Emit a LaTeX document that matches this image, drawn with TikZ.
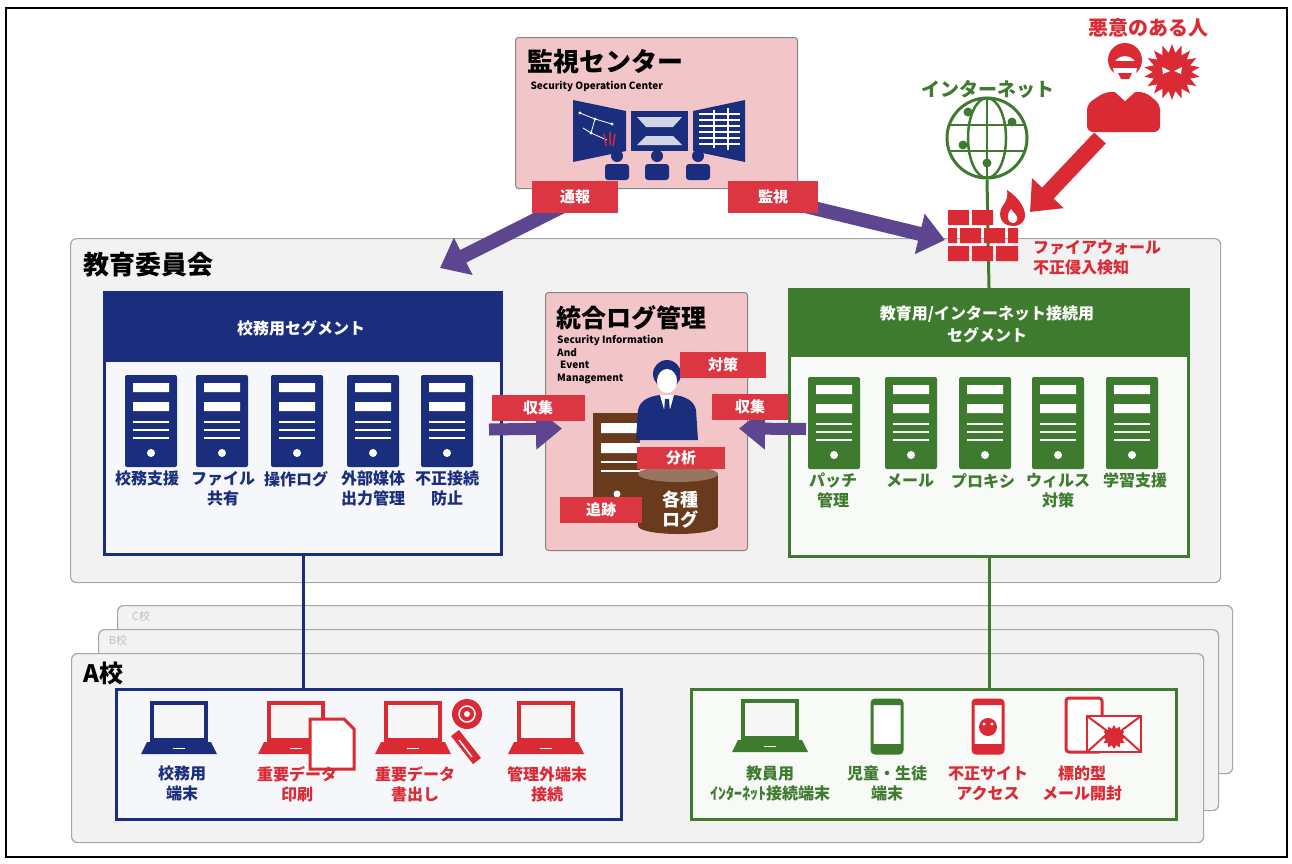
\documentclass[tikz,border=0pt]{standalone}
\usepackage{fontspec}
\setmainfont{Noto Sans CJK JP}
\usetikzlibrary{arrows.meta,shapes.geometric}

\definecolor{navyseg}{HTML}{1B2E7E}
\definecolor{greenseg}{HTML}{3F7B2E}
\definecolor{tagred}{HTML}{DC3642}
\definecolor{alertred}{HTML}{DA2A33}
\definecolor{pinkbox}{HTML}{F2C5C9}
\definecolor{arrowpurple}{HTML}{5E4590}
\definecolor{logbrown}{HTML}{6A3A1C}
\definecolor{panelgray}{HTML}{F2F2F2}
\definecolor{framegray}{HTML}{A6A6A6}

\newcommand\fsz[2]{\fontsize{#1}{#2}\selectfont}

% server tower: #1 x centre, #2 top, #3 colour
\newcommand\servericon[3]{%
  \begin{scope}[shift={(#1,#2)}]
    \fill[#3,rounded corners=2pt] (-26,0) rectangle (26,92);
    \fill[white] (-18,8) rectangle (18,17) (-18,27) rectangle (18,36);
    \draw[white,line width=1.6pt] (-18,47) -- (18,47) (-18,55) -- (18,55) (-18,63) -- (18,63);
    \fill[white] (0,78) circle (4);
  \end{scope}}

% notebook pc: #1 x centre, #2 screen top, #3 colour
\newcommand\laptopicon[3]{%
  \begin{scope}[shift={(#1,#2)}]
    \draw[#3,line width=3.5pt,fill=white!97!black] (-27,0) rectangle (27,37);
    \fill[#3] (-32,39) -- (32,39) -- (38,51) -- (-38,51) -- cycle;
    \draw[white,line width=1pt] (-6,45) -- (6,45);
  \end{scope}}

% smartphone: #1 x centre, #2 top, #3 colour
\newcommand\phoneicon[3]{%
  \begin{scope}[shift={(#1,#2)}]
    \draw[#3,line width=3pt,fill=white,rounded corners=3pt] (-15,0) rectangle (15,53);
    \fill[#3] (-15,44) rectangle (15,53) (-15,0) rectangle (15,5);
  \end{scope}}

\begin{document}
\begin{tikzpicture}[x=1pt,y=-1pt,
  panel/.style={draw=framegray,fill=panelgray,line width=1.2pt,rounded corners=6pt,anchor=north west,inner sep=0pt},
  pinkpanel/.style={draw=framegray!80!black,fill=pinkbox,line width=1pt,rounded corners=3pt,anchor=north west,inner sep=0pt},
  segbox/.style={draw=#1,fill=white!96!#1,line width=3pt,anchor=north west,inner sep=0pt},
  tag/.style={fill=tagred,text=white,font=\bfseries\fsz{15}{17},inner sep=0pt},
  lbl/.style={align=center,inner sep=0pt,anchor=north,font=\bfseries\fsz{16}{20}},
  flow/.style={draw=arrowpurple,line width=14pt,-{Triangle[length=26pt,width=40pt]}},
  attack/.style={draw=alertred,line width=16pt,-{Triangle[length=26pt,width=42pt]}}]
\useasboundingbox (0,0) rectangle (1292,863);
\draw[line width=1.2pt] (6,8) rectangle (1287,857);

%-------->panels<--------------
\node[panel,minimum width=1150pt,minimum height=344pt] (board) at (70,238) {};
\node[anchor=west,font=\bfseries\fsz{26}{28}] (boardttl) at (80,265) {教育委員会};

\node[panel,minimum width=1115pt,minimum height=168pt] (schC) at (117,605) {};
\node[text=black!25,font=\fsz{11}{12}] (schCttl) at (141,616) {C校};
\node[panel,minimum width=1120pt,minimum height=181pt] (schB) at (98,629) {};
\node[text=black!25,font=\fsz{11}{12}] (schBttl) at (118,640) {B校};
\node[panel,minimum width=1132pt,minimum height=189pt] (schA) at (71,653) {};
\node[anchor=west,font=\bfseries\fsz{24}{26}] (schAttl) at (80,673) {A校};

\node[pinkpanel,minimum width=282pt,minimum height=151pt] (soc) at (515,37) {};
\node[anchor=west,font=\bfseries\fsz{26}{28}] (socttl) at (524,62) {監視センター};
\node[anchor=west,font=\bfseries\fsz{10}{12}] (socsub) at (527,86) {Security Operation Center};

\node[pinkpanel,minimum width=202pt,minimum height=258pt] (siem) at (545,292) {};
\node[anchor=west,font=\bfseries\fsz{25}{27}] (siemttl) at (553,318) {統合ログ管理};
\node[anchor=north west,align=left,inner sep=0pt,font=\bfseries\fsz{10}{12.5}] (siemsub) at (557,335)
  {Security Information\\And\\\hspace{3pt}Event\\Management};

%-------->segments<--------------
\node[segbox=navyseg,minimum width=397pt,minimum height=262pt] (seg1) at (103,291) {};
\fill[navyseg] (seg1.north west) rectangle ([yshift=-71pt]seg1.north east);
\node[text=white,font=\bfseries\fsz{16}{19}] (seg1ttl) at (301,328) {校務用セグメント};

\node[segbox=greenseg,minimum width=399pt,minimum height=267pt] (seg2) at (788,288) {};
\fill[greenseg] (seg2.north west) rectangle ([yshift=-69pt]seg2.north east);
\node[text=white,align=center,font=\bfseries\fsz{16}{22}] (seg2ttl) at (987,324) {教育用/インターネット接続用\\セグメント};

%-------->servers<--------------
\servericon{151}{375}{navyseg}
\servericon{222}{375}{navyseg}
\servericon{297}{375}{navyseg}
\servericon{373}{375}{navyseg}
\servericon{447}{375}{navyseg}
\node[lbl,text=navyseg] (sv1) at (147,471) {校務支援};
\node[lbl,text=navyseg] (sv2) at (223,471) {ファイル\\共有};
\node[lbl,text=navyseg] (sv3) at (296,471) {操作ログ};
\node[lbl,text=navyseg] (sv4) at (373,471) {外部媒体\\出力管理};
\node[lbl,text=navyseg] (sv5) at (447,471) {不正接続\\防止};

\servericon{834}{377}{greenseg}
\servericon{911}{377}{greenseg}
\servericon{985}{377}{greenseg}
\servericon{1058}{377}{greenseg}
\servericon{1132}{377}{greenseg}
\node[lbl,text=greenseg] (sv6) at (833,473) {パッチ\\管理};
\node[lbl,text=greenseg] (sv7) at (910,473) {メール};
\node[lbl,text=greenseg] (sv8) at (983,473) {プロキシ};
\node[lbl,text=greenseg] (sv9) at (1058,473) {ウィルス\\対策};
\node[lbl,text=greenseg] (sv10) at (1135,473) {学習支援};

%-------->school terminals<--------------
\node[segbox=navyseg,minimum width=505pt,minimum height=130pt] (sch1) at (115,688) {};
\node[segbox=greenseg,minimum width=485pt,minimum height=130pt] (sch2) at (690,688) {};
\draw[navyseg,line width=3pt] (seg1.south) -- (seg1.south |- sch1.north);
\draw[greenseg,line width=3pt] (seg2.south) -- (seg2.south |- sch2.north);

\laptopicon{179}{703}{navyseg}
\laptopicon{296}{703}{alertred}
\draw[alertred,line width=3pt,fill=white] (310,719) -- (344,719) -- (354,729) -- (354,769) -- (310,769) -- cycle;
\laptopicon{413}{703}{alertred}
\fill[alertred] (467,714) circle (15);
\draw[white,line width=1.5pt] (467,714) circle (8);
\fill[white] (467,714) circle (3);
\draw[alertred,line width=10pt] (455,733) -- (477,761);
\draw[white,line width=1.5pt] (459,740) -- (472,757);
\laptopicon{546}{703}{alertred}
\node[lbl,text=navyseg] (pc1) at (182,766) {校務用\\端末};
\node[lbl,text=alertred] (pc2) at (297,766) {重要データ\\印刷};
\node[lbl,text=alertred] (pc3) at (415,766) {重要データ\\書出し};
\node[lbl,text=alertred] (pc4) at (547,766) {管理外端末\\接続};

\laptopicon{770}{701}{greenseg}
\phoneicon{887}{700}{greenseg}
\phoneicon{988}{700}{alertred}
\fill[alertred] (988,727) circle (9);
\fill[white] (984,724) circle (1.6) (992,724) circle (1.6);
\draw[alertred,line width=3pt,fill=white,rounded corners=3pt] (1066,698) rectangle (1102,752);
\draw[alertred,line width=2.5pt,fill=white] (1087,716) rectangle (1141,752);
\draw[alertred,line width=2pt] (1087,716) -- (1114,736) -- (1141,716) (1087,752) -- (1107,734) (1141,752) -- (1121,734);
\node[star,star points=12,star point ratio=1.4,fill=alertred,minimum size=24pt,inner sep=0pt] (mailbug) at (1114,737) {};
\node[lbl,text=greenseg] (pc5) at (770,766) {教員用\\ｲﾝﾀｰﾈｯﾄ接続端末};
\node[lbl,text=greenseg] (pc6) at (887,766) {児童・生徒\\端末};
\node[lbl,text=alertred] (pc7) at (988,766) {不正サイト\\アクセス};
\node[lbl,text=alertred] (pc8) at (1082,766) {標的型\\メール開封};

%-------->monitoring room<--------------
\fill[navyseg] (573,100) -- (626,111) -- (626,151) -- (573,162) -- cycle;
\draw[white,line width=0.8pt] (580,113) -- (595,119) -- (591,133) -- (607,140) (583,128) -- (591,133) (595,119) -- (612,124);
\fill[white] (580,113) circle (1.6) (595,119) circle (1.6) (591,133) circle (1.6) (612,124) circle (1.6);
\draw[alertred,line width=1.5pt] (604,134) -- (606,146) (610,132) -- (610,145) (615,134) -- (613,146);
\fill[navyseg] (631,111) rectangle (688,151);
\fill[white!80!navyseg] (637,117) -- (682,117) -- (673,127) -- (646,127) -- cycle;
\fill[white!80!navyseg] (646,136) -- (673,136) -- (682,145) -- (637,145) -- cycle;
\fill[navyseg] (693,111) -- (745,100) -- (745,162) -- (693,151) -- cycle;
\draw[white,line width=1.2pt] (699,114) -- (740,114) (699,120) -- (740,120) (699,126) -- (740,126) (699,132) -- (740,132)
  (699,138) -- (740,138) (699,144) -- (740,144) (714,110) -- (714,148) (728,108) -- (728,150);
\fill[navyseg] (617,156) circle (6) (657,156) circle (6) (698,156) circle (6);
\fill[navyseg,rounded corners=3pt] (605,164) rectangle (629,180) (645,164) rectangle (669,180) (686,164) rectangle (710,180);

%-------->log analysis<--------------
\fill[logbrown] (593,413) rectangle (640,513);
\fill[white] (601,423) rectangle (640,433) (601,443) rectangle (640,453);
\draw[white,line width=1.8pt] (601,462) -- (640,462) (601,471) -- (640,471);
\fill[white] (617,494) circle (3.5);
\fill[logbrown] (638,474) rectangle (718,526);
\fill[logbrown] (678,526) ellipse (40 and 8);
\fill[logbrown!70!white] (678,474) ellipse (40 and 8);
\node[text=white,align=center,font=\bfseries\fsz{18}{20}] (logs) at (680,510) {各種\\ログ};
\fill[navyseg] (667,374) circle (14);
\fill[white] (667,381) ellipse (10 and 12);
\fill[navyseg] (636,440) -- (638,410) .. controls (640,400) and (650,396) .. (660,395) -- (674,395) .. controls (684,396) and (694,400) .. (696,410) -- (698,440) -- cycle;
\fill[white] (660,395) -- (674,395) -- (667,420) -- cycle;
\fill[navyseg] (665,399) -- (669,399) -- (671,425) -- (667,431) -- (663,425) -- cycle;

%-------->internet side<--------------
\node[text=greenseg,font=\bfseries\fsz{19}{22}] (netttl) at (988,89) {インターネット};
\node[circle,draw=greenseg,line width=3pt,minimum size=80pt,inner sep=0pt] (globe) at (987,138) {};
\draw[greenseg,line width=2.5pt] (950,125) -- (1024,125) (950,151) -- (1024,151) (987,98) -- (987,178);
\draw[greenseg,line width=2.5pt] (987,138) ellipse (19 and 40);
\fill[greenseg] (963,145) circle (4.5) (1012,122) circle (4.5) (987,163) circle (4.5) (968,112) circle (4.5);
\draw[greenseg,line width=3pt] (globe.south) -- (seg2.north);

% firewall bricks and flame
\fill[alertred] (948,210) rectangle (969,225) (972,210) rectangle (993,225)
  (948,228) rectangle (957,243) (960,228) rectangle (981,243) (984,228) rectangle (1005,243) (1008,228) rectangle (1018,243)
  (948,246) rectangle (969,261) (972,246) rectangle (993,261) (996,246) rectangle (1018,261);
\fill[alertred] (1013,226) .. controls (999,226) and (997,212) .. (1004,204) .. controls (1007,200) and (1008,195) .. (1007,190)
  .. controls (1020,198) and (1028,212) .. (1024,220) .. controls (1022,224) and (1018,226) .. (1013,226) -- cycle;
\fill[white] (1013,223) .. controls (1007,223) and (1006,215) .. (1011,209) .. controls (1013,213) and (1019,216) .. (1017,220)
  .. controls (1016,222) and (1015,223) .. (1013,223) -- cycle;
\node[text=alertred,anchor=north west,align=left,inner sep=0pt,font=\bfseries\fsz{16}{20}] (fwttl) at (1033,240) {ファイアウォール\\不正侵入検知};

% attacker
\node[text=alertred,font=\bfseries\fsz{20}{24}] (evilttl) at (1148,28) {悪意のある人};
\fill[alertred] (1125,60) circle (17);
\fill[white] (1125,68) ellipse (12 and 12);
\fill[alertred] (1111,61) rectangle (1139,68);
\fill[alertred] (1118,73) -- (1132,73) -- (1129,79) -- (1121,79) -- cycle;
\fill[alertred,rounded corners=6pt] (1087,132) -- (1087,104) -- (1105,92) -- (1145,92) -- (1160,104) -- (1160,132) -- cycle;
\fill[white] (1115,92) -- (1135,92) -- (1125,101) -- cycle;
\node[star,star points=18,star point ratio=1.45,fill=alertred,minimum size=56pt,inner sep=0pt] (virus) at (1172,72) {};
\fill[white] (1162,67) -- (1170,71) -- (1163,74) -- cycle;
\fill[white] (1182,67) -- (1174,71) -- (1181,74) -- cycle;

%-------->arrows<--------------
\coordinate (evilfoot) at (1100,138);
\coordinate (fwhit) at (1030,212);
\draw[attack] (evilfoot) -- (fwhit);
\coordinate (repfrom) at (585,195);
\coordinate (repto) at (440,268);
\draw[flow] (repfrom) -- (repto);
\coordinate (monfrom) at (760,195);
\coordinate (monto) at (945,240);
\draw[flow] (monfrom) -- (monto);
\draw[flow,line width=12pt] ([xshift=-14pt,yshift=-6pt]seg1.east) -- ([xshift=17pt,yshift=-7pt]siem.west);
\draw[flow,line width=12pt] ([xshift=18pt,yshift=-6pt]seg2.west) -- ([xshift=-9pt,yshift=-7pt]siem.east);

%-------->tags<--------------
\node[tag,minimum width=86pt,minimum height=32pt] (reptag) at (575,197) {通報};
\node[tag,minimum width=90pt,minimum height=32pt] (montag) at (773,197) {監視};
\node[tag,minimum width=93pt,minimum height=26pt] (coltagL) at (538,408) {収集};
\node[tag,minimum width=86pt,minimum height=26pt] (ctrtag) at (723,365) {対策};
\node[tag,minimum width=76pt,minimum height=26pt] (coltagR) at (750,407) {収集};
\node[tag,minimum width=88pt,minimum height=22pt] (antag) at (681,458) {分析};
\node[tag,minimum width=82pt,minimum height=26pt] (trtag) at (601,510) {追跡};
\end{tikzpicture}
\end{document}
